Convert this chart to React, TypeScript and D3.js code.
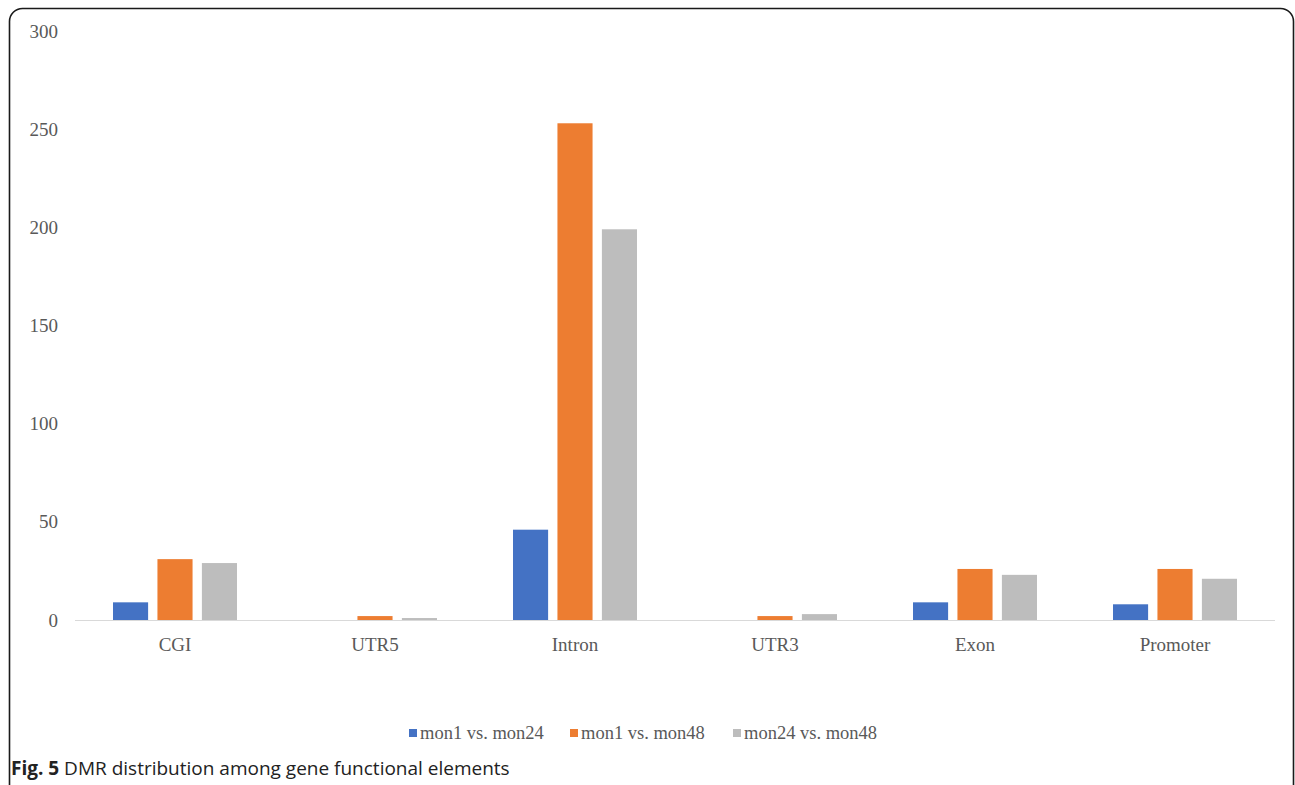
import React from "react";
import * as d3 from "d3";

const categories = ["CGI", "UTR5", "Intron", "UTR3", "Exon", "Promoter"];
const seriesNames = ["mon1 vs. mon24", "mon1 vs. mon48", "mon24 vs. mon48"];
const mon1VsMon24 = [9, 0, 46, 0, 9, 8];
const mon1VsMon48 = [31, 2, 253, 2, 26, 26];
const mon24VsMon48 = [29, 1, 199, 3, 23, 21];
const yTicks = [0, 50, 100, 150, 200, 250, 300];
const colors = ["#4472C4", "#ED7D31", "#BDBDBD"];

const W = 1295;
const H = 785;
const plot = { left: 75, right: 1275, top: 31, bottom: 620 };

export default function App() {
  const series = [mon1VsMon24, mon1VsMon48, mon24VsMon48];
  const x = d3.scaleBand<string>().domain(categories).range([plot.left, plot.right]).paddingInner(0).paddingOuter(0);
  const y = d3.scaleLinear().domain([0, 300]).range([plot.bottom, plot.top]);
  // bars occupy the middle 62% of each category band
  const groupInset = x.bandwidth() * 0.19;
  const inner = d3
    .scaleBand<number>()
    .domain([0, 1, 2])
    .range([groupInset, x.bandwidth() - groupInset])
    .paddingInner(0.21)
    .paddingOuter(0);

  const serif = "'Liberation Serif', 'Times New Roman', serif";
  const sans = "'Open Sans', 'Noto Sans', sans-serif";

  const legendX = [409, 570, 733];

  return (
    <svg
      width={W}
      height={H}
      style={{ position: "absolute", left: 0, top: 0, background: "#fff" }}
    >
      <rect x={9.5} y={8.5} width={1284} height={790} rx={13} ry={13} fill="none" stroke="#1a1a1a" strokeWidth={1.6} />

      {yTicks.map((t) => (
        <text
          key={t}
          x={58}
          y={y(t)}
          dy="0.35em"
          textAnchor="end"
          fontFamily={serif}
          fontSize={19}
          fill="#595959"
        >
          {t}
        </text>
      ))}

      {series.map((vals, si) =>
        vals.map((v, ci) => (
          <rect
            key={`${si}-${ci}`}
            x={(x(categories[ci]) ?? 0) + (inner(si) ?? 0)}
            y={y(v)}
            width={inner.bandwidth()}
            height={plot.bottom - y(v)}
            fill={colors[si]}
          />
        ))
      )}

      <line x1={plot.left} x2={plot.right} y1={plot.bottom + 0.5} y2={plot.bottom + 0.5} stroke="#d9d9d9" strokeWidth={1.2} />

      {categories.map((c) => (
        <text
          key={c}
          x={(x(c) ?? 0) + x.bandwidth() / 2}
          y={644}
          dy="0.35em"
          textAnchor="middle"
          fontFamily={serif}
          fontSize={19}
          fill="#595959"
        >
          {c}
        </text>
      ))}

      {seriesNames.map((name, i) => (
        <g key={name}>
          <rect x={legendX[i]} y={729} width={8} height={8} fill={colors[i]} />
          <text x={legendX[i] + 11} y={733} dy="0.35em" fontFamily={serif} fontSize={18.5} fill="#595959">
            {name}
          </text>
        </g>
      ))}

      <text x={11} y={775} fontFamily={sans} fontSize={19} fill="#222">
        <tspan fontWeight="bold">Fig. 5</tspan>
        <tspan> DMR distribution among gene functional elements</tspan>
      </text>
    </svg>
  );
}
